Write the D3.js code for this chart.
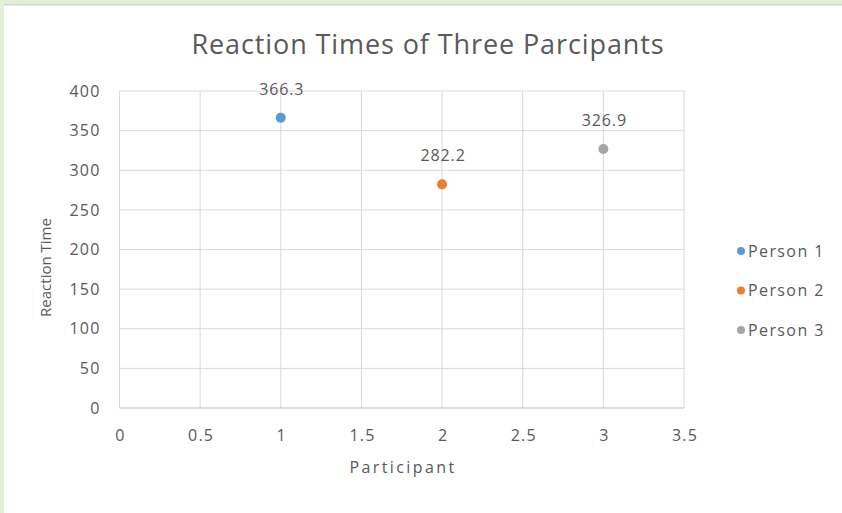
<!DOCTYPE html>
<html>
<head>
<meta charset="utf-8">
<script src="https://cdn.jsdelivr.net/npm/d3@7"></script>
<style>
  body { margin: 0; background: #ffffff; }
  svg { display: block; }
</style>
</head>
<body>
<div id="chart"></div>
<script>
// Data.
const people = ['Person 1', 'Person 2', 'Person 3'];
const participant = [1, 2, 3];
const reactionTime = [366.3, 282.2, 326.9];
const colors = ['#5b9bd5', '#ed7d31', '#a5a5a5'];
const xTicks = [0, 0.5, 1, 1.5, 2, 2.5, 3, 3.5];
const yTicks = [0, 50, 100, 150, 200, 250, 300, 350, 400];

const width = 842;
const height = 513;
const plot = { left: 119.5, right: 684, top: 91, bottom: 408 };
const font = '"Open Sans", sans-serif';
const textColor = '#595959';

const svg = d3.select('#chart')
  .append('svg')
  .attr('width', width)
  .attr('height', height);

// Frame.
svg.append('rect')
  .attr('x', 0).attr('y', 0)
  .attr('width', width).attr('height', height)
  .attr('fill', '#ffffff');
svg.append('rect')
  .attr('x', 0).attr('y', 0)
  .attr('width', width).attr('height', 4)
  .attr('fill', '#e3efd9');
svg.append('rect')
  .attr('x', 0).attr('y', 4)
  .attr('width', width).attr('height', 1.5)
  .attr('fill', '#d4d8d0');
svg.append('rect')
  .attr('x', 0).attr('y', 0)
  .attr('width', 4).attr('height', height)
  .attr('fill', '#e3efd9');

const x = d3.scaleLinear().domain([0, 3.5]).range([plot.left, plot.right]);
const y = d3.scaleLinear().domain([0, 400]).range([plot.bottom, plot.top]);

// Gridlines.
svg.append('g')
  .selectAll('line')
  .data(xTicks)
  .join('line')
  .attr('x1', d => x(d)).attr('x2', d => x(d))
  .attr('y1', plot.top).attr('y2', plot.bottom)
  .attr('stroke', '#d9d9d9')
  .attr('stroke-width', 1);

svg.append('g')
  .selectAll('line')
  .data(yTicks)
  .join('line')
  .attr('x1', plot.left).attr('x2', plot.right)
  .attr('y1', d => y(d)).attr('y2', d => y(d))
  .attr('stroke', d => d === 0 ? '#bfbfbf' : '#d9d9d9')
  .attr('stroke-width', 1);

// Axes.
const xAxis = svg.append('g')
  .attr('transform', `translate(0.5,${plot.bottom + 19})`)
  .call(d3.axisBottom(x).tickValues(xTicks).tickSize(0).tickFormat(d3.format('')));
xAxis.select('.domain').remove();
xAxis.selectAll('text')
  .attr('font-family', font)
  .attr('font-size', 16)
  .attr('letter-spacing', 1.2)
  .attr('fill', textColor);

const yAxis = svg.append('g')
  .attr('transform', `translate(${plot.left - 16},0)`)
  .call(d3.axisLeft(y).tickValues(yTicks).tickSize(0));
yAxis.select('.domain').remove();
yAxis.selectAll('text')
  .attr('font-family', font)
  .attr('font-size', 16)
  .attr('letter-spacing', 1.2)
  .attr('fill', textColor);

// Title and axis titles.
svg.append('text')
  .attr('x', 428)
  .attr('y', 54)
  .attr('text-anchor', 'middle')
  .attr('font-family', font)
  .attr('font-size', 27)
  .attr('letter-spacing', 0.9)
  .attr('fill', textColor)
  .text('Reaction Times of Three Parcipants');

svg.append('text')
  .attr('x', 403)
  .attr('y', 473)
  .attr('text-anchor', 'middle')
  .attr('font-family', font)
  .attr('font-size', 16)
  .attr('letter-spacing', 2.4)
  .attr('fill', textColor)
  .text('Participant');

svg.append('text')
  .attr('transform', `translate(51,${(plot.top + plot.bottom) / 2 + 18}) rotate(-90)`)
  .attr('text-anchor', 'middle')
  .attr('font-family', font)
  .attr('font-size', 15)
  .attr('fill', textColor)
  .text('Reaction Time');

// Points.
const points = people.map((p, i) => ({ name: p, x: participant[i], y: reactionTime[i], color: colors[i] }));

svg.append('g')
  .selectAll('circle')
  .data(points)
  .join('circle')
  .attr('cx', d => x(d.x))
  .attr('cy', d => y(d.y))
  .attr('r', 5)
  .attr('fill', d => d.color);

svg.append('g')
  .selectAll('text')
  .data(points)
  .join('text')
  .attr('x', d => x(d.x) + 1)
  .attr('y', d => y(d.y) - 23)
  .attr('text-anchor', 'middle')
  .attr('font-family', font)
  .attr('font-size', 16)
  .attr('letter-spacing', 0.9)
  .attr('fill', textColor)
  .text(d => d.y.toFixed(1));

// Legend.
const legend = svg.append('g')
  .selectAll('g')
  .data(points)
  .join('g')
  .attr('transform', (d, i) => `translate(741,${251 + i * 39.5})`);

legend.append('circle')
  .attr('r', 4)
  .attr('fill', d => d.color);

legend.append('text')
  .attr('x', 7)
  .attr('dy', '0.35em')
  .attr('font-family', font)
  .attr('font-size', 16)
  .attr('letter-spacing', 1.4)
  .attr('fill', textColor)
  .text(d => d.name);
</script>
</body>
</html>
